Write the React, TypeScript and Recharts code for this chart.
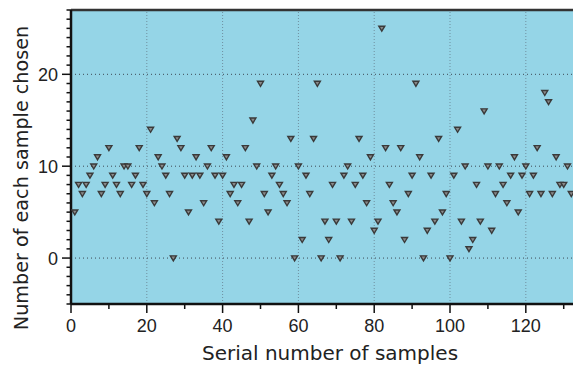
import React from 'react';
import { ScatterChart, Scatter, XAxis, YAxis, ReferenceLine, ReferenceArea } from 'recharts';

// Number of times each sample was chosen, for serial numbers 1..132
const chosenCounts = [
  5, 8, 7, 8, 9, 10, 11, 7, 8, 12,
  9, 8, 7, 10, 10, 8, 9, 12, 8, 7,
  14, 6, 11, 10, 9, 7, 0, 13, 12, 9,
  5, 9, 11, 9, 6, 10, 12, 9, 4, 9,
  11, 7, 8, 6, 8, 12, 4, 15, 10, 19,
  7, 5, 9, 10, 8, 7, 6, 13, 0, 10,
  2, 9, 7, 13, 19, 0, 4, 2, 8, 4,
  0, 9, 10, 4, 8, 13, 9, 6, 11, 3,
  4, 25, 12, 8, 6, 5, 12, 2, 7, 9,
  19, 11, 0, 3, 9, 4, 13, 5, 7, 0,
  9, 14, 4, 10, 1, 2, 8, 4, 16, 10,
  3, 7, 10, 8, 6, 9, 11, 5, 9, 10,
  7, 9, 12, 7, 18, 17, 7, 11, 8, 8,
  10, 7,
];

const xTicks = [0, 10, 20, 30, 40, 50, 60, 70, 80, 90, 100, 110, 120, 130];
const xLabelTicks = [0, 20, 40, 60, 80, 100, 120];
const xGridLines = [20, 40, 60, 80, 100, 120];
const yTicks = [-5, -4, -3, -2, -1, 0, 1, 2, 3, 4, 5, 6, 7, 8, 9, 10, 11, 12, 13, 14, 15, 16, 17, 18, 19, 20, 21, 22, 23, 24, 25, 26, 27];
const yLabelTicks = [0, 10, 20];
const yGridLines = [0, 10, 20];
const xDomain = [0, 132.45];
const yDomain = [-5, 27];

const data = chosenCounts.map((v, i) => ({ serial: i + 1, count: v }));

const tickFont = { fontFamily: '"Liberation Sans", Arial, sans-serif', fontSize: 18, fill: '#222' };

const XTick = (props: any) => {
  const { x, y, payload } = props;
  const v = payload.value;
  const major = xLabelTicks.includes(v);
  return (
    <g>
      <line x1={x} x2={x} y1={y} y2={y + (major ? 9 : 5)} stroke="#111" strokeWidth={1.5} />
      {major && (
        <text x={x} y={y + 28} textAnchor="middle" {...tickFont}>
          {v}
        </text>
      )}
    </g>
  );
};

const YTick = (props: any) => {
  const { x, y, payload } = props;
  const v = payload.value;
  const major = yLabelTicks.includes(v);
  return (
    <g>
      <line x1={x} x2={x - (major ? 9 : 4.5)} y1={y} y2={y} stroke="#111" strokeWidth={1.5} />
      {major && (
        <text x={x - 13} y={y + 6.5} textAnchor="end" {...tickFont}>
          {v}
        </text>
      )}
    </g>
  );
};

const Marker = (props: any) => {
  const { cx, cy } = props;
  if (cx == null || cy == null) return null;
  return (
    <polygon
      points={`${cx - 3},${cy - 2.2} ${cx + 3},${cy - 2.2} ${cx},${cy + 2.8}`}
      fill="#8a8a8a"
      stroke="#3a3a3a"
      strokeWidth={1.4}
    />
  );
};

export default function App() {
  return (
    <div style={{ position: 'absolute', left: 0, top: 0, width: 573, height: 368, background: '#fff' }}>
      <ScatterChart width={573} height={368} margin={{ top: 10, right: 0, bottom: 0, left: 0 }}>
        <ReferenceArea
          x1={xDomain[0]}
          x2={xDomain[1]}
          y1={yDomain[0]}
          y2={yDomain[1]}
          fill="#95d5e7"
          fillOpacity={1}
          stroke="none"
          ifOverflow="visible"
        />
        {xGridLines.map((g) => (
          <ReferenceLine key={'xg' + g} x={g} stroke="#6f8f9f" strokeDasharray="1 2" strokeWidth={1} />
        ))}
        {yGridLines.map((g) => (
          <ReferenceLine key={'yg' + g} y={g} stroke="#3d4a55" strokeDasharray="1 3" strokeWidth={1} />
        ))}
        <ReferenceLine y={yDomain[1]} stroke="#333" strokeWidth={2.5} ifOverflow="visible" />
        <XAxis
          type="number"
          dataKey="serial"
          domain={xDomain}
          allowDataOverflow
          ticks={xTicks}
          interval={0}
          height={64}
          tickSize={0}
          tickMargin={0}
          tickLine={false}
          tick={<XTick />}
          axisLine={{ stroke: '#111', strokeWidth: 2.5 }}
        />
        <YAxis
          type="number"
          dataKey="count"
          domain={yDomain}
          allowDataOverflow
          ticks={yTicks}
          interval={0}
          width={71}
          tickSize={0}
          tickMargin={0}
          tickLine={false}
          tick={<YTick />}
          axisLine={{ stroke: '#111', strokeWidth: 2.5 }}
        />
        <Scatter data={data} shape={<Marker />} isAnimationActive={false} />
      </ScatterChart>
      <div
        style={{
          position: 'absolute',
          left: 330,
          top: 353,
          transform: 'translate(-50%, -50%)',
          whiteSpace: 'nowrap',
          fontFamily: '"DejaVu Sans", Verdana, sans-serif',
          fontSize: 20,
          color: '#222',
          lineHeight: 1,
        }}
      >
        Serial number of samples
      </div>
      <div
        style={{
          position: 'absolute',
          left: 22,
          top: 178,
          transform: 'translate(-50%, -50%) rotate(-90deg)',
          whiteSpace: 'nowrap',
          fontFamily: '"DejaVu Sans", Verdana, sans-serif',
          fontSize: 19.2,
          color: '#222',
          lineHeight: 1,
        }}
      >
        Number of each sample chosen
      </div>
    </div>
  );
}
